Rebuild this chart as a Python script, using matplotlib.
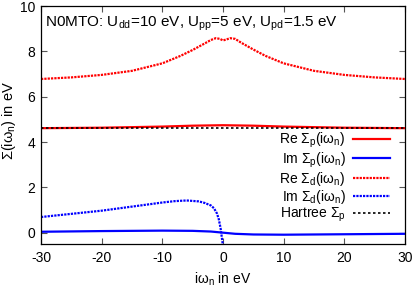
import matplotlib
matplotlib.use("Agg")
import matplotlib.pyplot as plt
import numpy as np

plt.rcParams['font.family'] = ['Liberation Sans', 'DejaVu Sans']
plt.rcParams['mathtext.fontset'] = 'custom'
plt.rcParams['mathtext.rm'] = 'Liberation Sans'
plt.rcParams['mathtext.it'] = 'Liberation Sans'
plt.rcParams['axes.unicode_minus'] = False

# Re Sigma_d (dotted red)
x_red = [-30, -25, -20, -15, -10, -7, -5, -3, -2, -1.2, -0.5, 0, 0.5, 1.2, 2, 3, 5, 7, 10, 15, 20, 25, 30]
re_sd = [6.78, 6.85, 6.96, 7.14, 7.47, 7.8, 8.06, 8.35, 8.5, 8.58, 8.55, 8.48, 8.52, 8.58, 8.55, 8.38, 8.08, 7.8, 7.47, 7.14, 6.96, 6.85, 6.78]

# Re Sigma_p (solid red)
x_rp = [-30, -20, -10, -5, 0, 5, 10, 20, 30]
re_sp = [4.61, 4.63, 4.68, 4.72, 4.74, 4.72, 4.68, 4.63, 4.61]

# Im Sigma_p (solid blue)
x_ip = [-30, -20, -10, -5, -2, 0, 2, 5, 10, 20, 30]
im_sp = [0.04, 0.07, 0.09, 0.08, 0.05, 0.0, -0.05, -0.08, -0.09, -0.07, -0.05]

# Im Sigma_d (dotted blue)
x_id = [-30, -25, -20, -15, -10, -8, -6, -4, -3, -2, -1.5, -1.0, -0.7, -0.4, -0.2, 0.0]
im_sd = [0.69, 0.83, 0.97, 1.15, 1.33, 1.39, 1.42, 1.38, 1.31, 1.2, 1.08, 0.85, 0.6, 0.2, -0.2, -0.6]

# Hartree Sigma_p
hartree_p = 4.6

fig = plt.figure(figsize=(4.15, 2.89), dpi=100)
ax = fig.add_axes([41/415, 1 - 244/289, (405-41)/415, (244-6)/289])

ax.plot(x_rp, re_sp, color='#ff0000', lw=1.6, label='Re Σ$_\\mathrm{p}$(iω$_\\mathrm{n}$)')
ax.plot(x_ip, im_sp, color='#0000ff', lw=1.6, label='Im Σ$_\\mathrm{p}$(iω$_\\mathrm{n}$)')
ax.plot(x_red, re_sd, color='#ff0000', lw=1.6, ls=(0, (1.0, 0.5)), label='Re Σ$_\\mathrm{d}$(iω$_\\mathrm{n}$)')
ax.plot(x_id, im_sd, color='#0000ff', lw=1.6, ls=(0, (1.0, 0.5)), label='Im Σ$_\\mathrm{d}$(iω$_\\mathrm{n}$)')
ax.plot([-30, 30], [hartree_p, hartree_p], color='black', lw=1.2, ls=(0, (1.5, 1.5)), label='Hartree Σ$_\\mathrm{p}$')

ax.set_xlim(-30, 30)
ax.set_ylim(-0.5, 10)
ax.set_xticks([-30, -20, -10, 0, 10, 20, 30])
ax.set_yticks([0, 2, 4, 6, 8, 10])
ax.tick_params(direction='in', top=True, right=True, labelsize=10, length=4, width=0.8,
               color='#555555', pad=5)
ax.tick_params(axis='y', pad=4)
for s in ax.spines.values():
    s.set_linewidth(0.9)

ax.set_xlabel('iω$_\\mathrm{n}$ in eV', fontsize=10)
ax.xaxis.set_label_coords(0.5, -0.112)
ax.set_ylabel('Σ(iω$_\\mathrm{n}$) in eV', fontsize=10.5)
ax.yaxis.set_label_coords(-0.064, 0.52)

ax.text(0.012, 0.965, 'N0MTO: U$_\\mathrm{dd}$=10 eV, U$_\\mathrm{pp}$=5 eV, U$_\\mathrm{pd}$=1.5 eV',
        transform=ax.transAxes, fontsize=11, va='top', ha='left')

leg = ax.legend(loc='upper right', frameon=False, fontsize=10,
                markerfirst=False, handlelength=2.7, labelspacing=0.0, handletextpad=0.5,
                borderaxespad=0.0, borderpad=0.0)
leg.set_bbox_to_anchor((1 - 15/364, 1 - (131 - 6) / 238), transform=ax.transAxes)
for t in leg.get_texts():
    t.set_ha('right')

fig.savefig('out.png', dpi=100)
